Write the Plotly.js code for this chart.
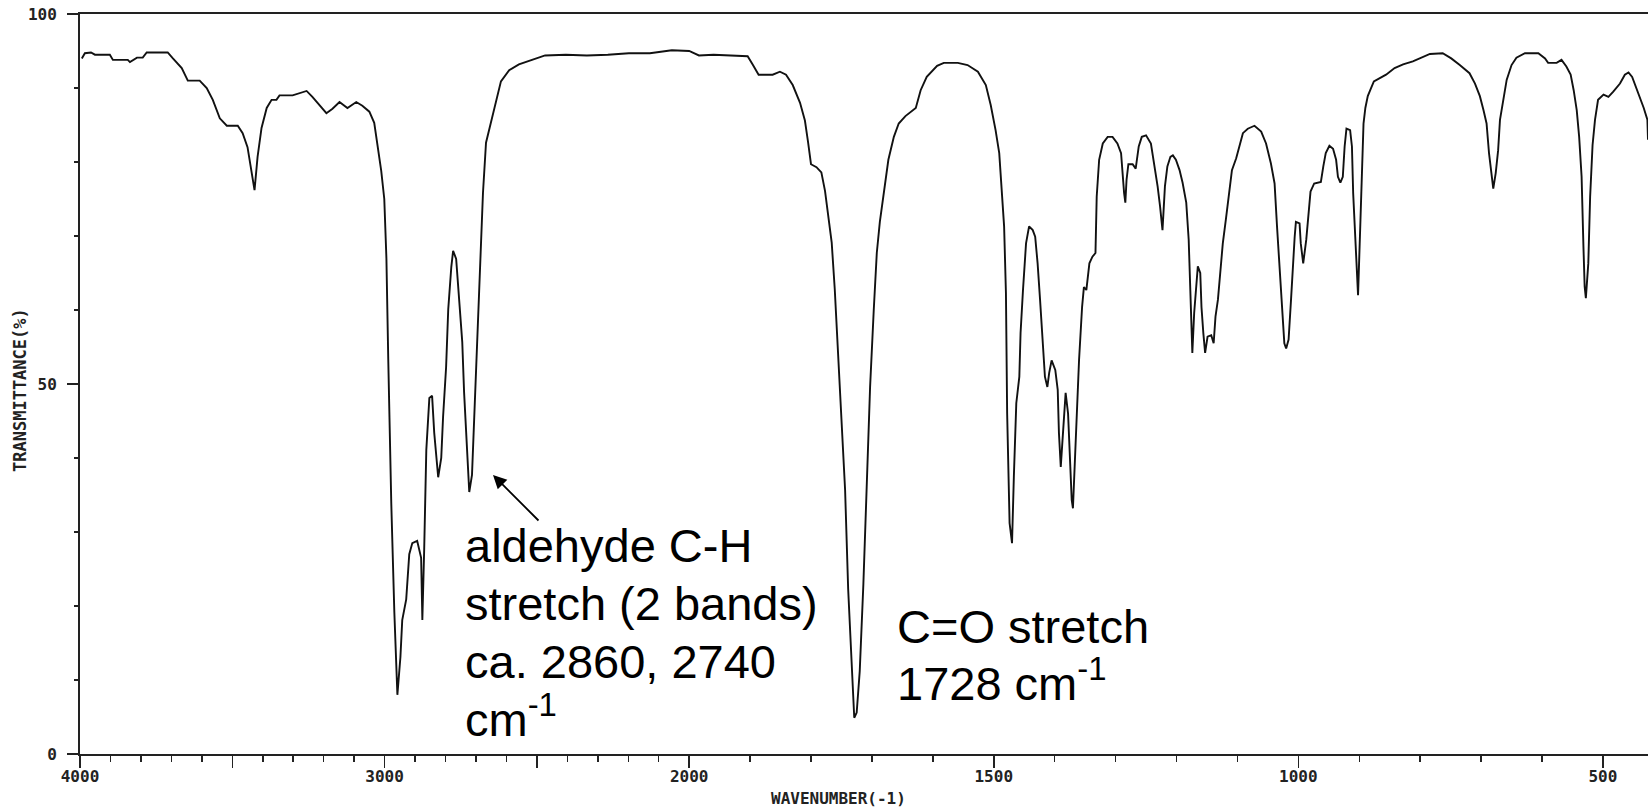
<!DOCTYPE html>
<html>
<head>
<meta charset="utf-8">
<script src="https://cdn.plot.ly/plotly-3.0.1.min.js"></script>
<style>
  html, body { margin: 0; padding: 0; background: #ffffff; }
  #chart { width: 1648px; height: 809px; }
</style>
</head>
<body>
<div id="chart"></div>
<script>
// IR spectrum of an aliphatic aldehyde: [wavenumber (cm-1), transmittance (%)]
// 4000-2000 cm-1: O-H/C-H stretching region
const stretchRegion = [
  [3994,94.0],[3984,94.7],[3964,94.8],[3951,94.5],[3902,94.5],[3892,93.8],[3843,93.8],[3836,93.5],
  [3813,94.1],[3794,94.1],[3781,94.8],[3712,94.8],[3695,94.0],[3666,92.7],[3646,91.0],[3607,91.0],
  [3584,90.0],[3564,88.4],[3541,85.9],[3518,84.9],[3482,84.9],[3466,83.9],[3450,82.0],[3437,78.9],
  [3427,76.2],[3417,80.7],[3404,84.6],[3387,87.3],[3371,88.4],[3355,88.4],[3345,89.0],[3302,89.0],
  [3256,89.6],[3237,88.8],[3214,87.7],[3191,86.6],[3171,87.2],[3148,88.1],[3122,87.3],[3093,88.1],
  [3073,87.6],[3050,86.8],[3034,85.3],[3024,82.5],[3011,78.8],[3001,75.0],[2994,67.0],[2988,53.4],
  [2978,33.8],[2968,19.2],[2962,10.8],[2958,8.0],[2948,13.1],[2942,18.1],[2929,20.9],[2919,27.0],
  [2909,28.5],[2893,28.8],[2880,26.5],[2876,18.1],[2870,27.6],[2863,41.1],[2853,48.1],[2844,48.4],
  [2837,43.4],[2830,40.0],[2824,37.4],[2814,40.0],[2808,45.5],[2798,52.3],[2791,60.1],[2781,65.8],
  [2775,68.0],[2765,66.9],[2755,61.8],[2745,55.7],[2739,48.9],[2729,40.5],[2722,35.4],[2713,37.7],
  [2706,45.0],[2696,53.4],[2690,60.1],[2683,69.1],[2677,75.8],[2667,82.6],[2650,85.4],[2634,88.2],
  [2618,90.9],[2591,92.4],[2559,93.2],[2516,93.8],[2473,94.4],[2405,94.5],[2336,94.4],[2267,94.5],
  [2198,94.7],[2129,94.7],[2057,95.1],[2000,95.0]
];

// 2000-1500 cm-1: carbonyl band and CH2 bending
const carbonylRegion = [
  [1984,94.4],[1960,94.5],[1925,94.4],[1904,94.3],[1896,93.2],[1886,91.8],[1863,91.8],[1851,92.2],
  [1841,91.8],[1830,90.4],[1818,88.0],[1810,85.6],[1805,82.8],[1800,79.7],[1791,79.3],[1783,78.6],
  [1777,76.1],[1772,72.6],[1766,69.1],[1761,62.8],[1756,54.4],[1750,46.0],[1744,35.6],[1739,22.3],
  [1733,11.2],[1729,4.9],[1725,5.6],[1720,11.2],[1714,23.0],[1708,37.0],[1703,49.6],[1697,60.0],
  [1692,67.7],[1687,71.9],[1681,75.4],[1673,80.3],[1664,83.4],[1656,85.2],[1645,86.2],[1628,87.3],
  [1620,89.7],[1610,91.5],[1593,93.0],[1582,93.4],[1559,93.4],[1543,93.1],[1526,92.2],[1513,90.4],
  [1505,87.7]
];

// 1500-426 cm-1: fingerprint region
const fingerprintRegion = [
  [1497,84.3],[1491,81.2],[1487,76.9],[1483,71.3],[1480,62.3],[1478,46.0],[1474,31.2],[1470,28.5],
  [1467,37.5],[1463,47.4],[1458,51.0],[1456,56.9],[1452,62.7],[1447,69.0],[1442,71.3],[1436,70.8],
  [1432,69.9],[1428,66.3],[1424,61.4],[1421,56.9],[1419,53.7],[1416,51.0],[1412,49.6],[1409,51.5],
  [1405,53.2],[1399,51.9],[1395,49.2],[1393,43.4],[1390,38.8],[1386,44.7],[1382,48.8],[1378,46.0],
  [1375,40.7],[1372,34.3],[1370,33.2],[1366,41.5],[1363,46.0],[1360,53.2],[1355,60.4],[1352,63.1],
  [1348,62.7],[1343,66.3],[1338,67.2],[1333,67.7],[1331,75.3],[1327,80.3],[1321,82.5],[1313,83.4],
  [1305,83.4],[1297,82.5],[1291,81.2],[1289,78.5],[1286,75.8],[1284,74.5],[1282,77.6],[1279,79.7],
  [1272,79.7],[1267,79.1],[1262,82.1],[1257,83.4],[1250,83.6],[1242,82.5],[1236,79.4],[1231,76.7],
  [1227,74.0],[1223,70.8],[1219,76.7],[1215,79.4],[1210,80.7],[1206,80.9],[1201,80.3],[1195,78.9],
  [1190,77.2],[1184,74.5],[1180,69.5],[1178,63.6],[1176,59.1],[1174,54.2],[1171,59.6],[1168,63.1],
  [1165,65.9],[1161,65.0],[1159,60.4],[1156,56.9],[1153,54.2],[1149,56.4],[1143,56.6],[1139,55.5],
  [1136,59.1],[1132,61.4],[1128,65.0],[1124,69.0],[1119,72.2],[1114,75.8],[1109,78.9],[1102,80.5],
  [1097,82.1],[1091,83.9],[1083,84.5],[1072,84.9],[1061,84.1],[1053,82.5],[1045,79.8],[1039,77.1],
  [1035,71.3],[1031,65.9],[1027,59.6],[1023,55.5],[1020,54.8],[1016,56.0],[1012,61.4],[1009,66.3],
  [1006,69.9],[1004,71.9],[998,71.7],[996,69.0],[992,66.3],[987,69.5],[983,74.0],[980,76.0],
  [974,77.1],[963,77.3],[959,79.4],[955,81.2],[949,82.2],[943,81.8],[938,80.3],[935,78.0],
  [931,77.2],[927,78.0],[924,82.1],[921,84.5],[915,84.3],[912,82.1],[910,75.8],[906,68.1],
  [902,62.0],[898,72.2],[895,78.9],[893,85.2],[890,87.3],[886,88.9],[882,89.7],[876,90.9],
  [867,91.3],[856,91.8],[842,92.7],[828,93.2],[812,93.6],[801,94.0],[784,94.6],[763,94.7],
  [749,94.0],[735,93.1],[719,92.0],[710,90.6],[702,88.9],[696,87.0],[691,85.2],[687,81.2],
  [683,78.5],[680,76.4],[676,78.5],[672,81.6],[669,85.7],[664,88.4],[658,91.1],[650,93.1],
  [642,94.1],[628,94.7],[606,94.7],[595,94.0],[590,93.4],[576,93.4],[568,93.8],[560,92.9],
  [553,91.8],[548,89.7],[543,87.0],[539,83.4],[535,78.0],[532,68.6],[530,63.2],[528,61.6],
  [524,66.3],[521,75.3],[517,82.3],[513,85.7],[508,88.4],[499,89.1],[491,88.8],[483,89.5],
  [472,90.6],[464,91.8],[458,92.1],[452,91.5],[447,90.4],[441,88.9],[433,87.3],[427,85.7],
  [426,83.0]
];

// Wavenumber axis: labelled ticks, long ticks every 500 cm-1, short ticks every 100 cm-1
const wnWindow = [4000, 426];
const labelTicks = [4000, 3000, 2000, 1500, 1000, 500];
const longTicks = [4000, 3500, 3000, 2500, 2000, 1500, 1000, 500];
const minorTicks = [];
for (let w = 3900; w >= 500; w -= 100) minorTicks.push(w);

// Transmittance axis
const yLabelTicks = [0, 50, 100];
const yMinorTicks = [10, 20, 30, 40, 60, 70, 80, 90];

// Spectrometer chart scale: below 2000 cm-1 the wavenumber axis is stretched 2x
function chartPos(w) {
  return w >= 2000 ? 4000 - w : 2000 + (2000 - w) * 2;
}

const spectrum = stretchRegion.concat(carbonylRegion, fingerprintRegion);
const xs = spectrum.map(p => chartPos(p[0]));
const ys = spectrum.map(p => p[1]);

const PLOT_L = 80, PLOT_T = 14, PLOT_W = 1568, PLOT_H = 740;
const px = v => (v - PLOT_L) / PLOT_W;
const py = v => (PLOT_T + PLOT_H - v) / PLOT_H;

const monoFont = 'DejaVu Sans Mono, monospace';
const inkColor = '#222';
const clear = 'rgba(0,0,0,0)';
const textFont = { family: 'Liberation Sans, Arial, sans-serif', size: 47, color: '#000' };

function textLine(text, x, yBottom) {
  return {
    xref: 'paper', yref: 'paper', x: px(x), y: py(yBottom),
    xanchor: 'left', yanchor: 'bottom', showarrow: false,
    text: text, font: textFont
  };
}

const annotations = [
  textLine('aldehyde C-H', 463, 574),
  textLine('stretch (2 bands)', 463, 632),
  textLine('ca. 2860, 2740', 463, 690),
  textLine('cm<sup>-1</sup>', 463, 748),
  textLine('C=O stretch', 895, 655),
  textLine('1728 cm<sup>-1</sup>', 895, 712),
  {
    xref: 'paper', yref: 'paper', x: px(493), y: py(475),
    ax: 47, ay: 47, text: '', showarrow: true,
    arrowhead: 2, arrowsize: 1.5, arrowwidth: 1.8, arrowcolor: '#000'
  },
  {
    xref: 'paper', yref: 'paper', x: px(838), y: py(798),
    xanchor: 'center', yanchor: 'middle', showarrow: false,
    text: 'WAVENUMBER(-1)', font: { family: monoFont, size: 16, color: inkColor, weight: 'bold' }
  },
  {
    xref: 'paper', yref: 'paper', x: px(20), y: py(390),
    xanchor: 'center', yanchor: 'middle', showarrow: false, textangle: -90,
    text: 'TRANSMITTANCE(%)', font: { family: monoFont, size: 17, color: inkColor, weight: 'bold' }
  }
];

const traces = [
  {
    type: 'scatter', mode: 'lines',
    x: xs, y: ys,
    line: { color: '#111', width: 1.9 },
    hoverinfo: 'skip'
  },
  // carries the long tick marks of both axes
  { type: 'scatter', mode: 'lines', x: [], y: [], xaxis: 'x2', yaxis: 'y2', hoverinfo: 'skip' }
];

const xRange = [chartPos(wnWindow[0]), chartPos(wnWindow[1])];
const yRange = [0, 100];
const tickFont = { family: monoFont, size: 16, color: inkColor, weight: 'bold' };

const layout = {
  width: 1648, height: 809,
  margin: { l: PLOT_L, r: 0, t: PLOT_T, b: 809 - PLOT_T - PLOT_H, pad: 0 },
  paper_bgcolor: '#ffffff', plot_bgcolor: '#ffffff',
  showlegend: false,
  font: { family: monoFont, color: inkColor },
  // labelled axes: the label offset comes from the (hidden) major tick length
  xaxis: {
    range: xRange,
    showgrid: false, zeroline: false,
    showline: true, linecolor: inkColor, linewidth: 2, mirror: true,
    ticks: 'outside', ticklen: 7, tickwidth: 1.5, tickcolor: clear,
    tickmode: 'array', tickvals: labelTicks.map(chartPos), ticktext: labelTicks.map(String),
    tickfont: tickFont,
    minor: {
      tickmode: 'array', tickvals: minorTicks.map(chartPos),
      ticks: 'outside', ticklen: 6, tickwidth: 1.5, tickcolor: inkColor, showgrid: false
    },
    automargin: false, fixedrange: true
  },
  yaxis: {
    range: yRange,
    showgrid: false, zeroline: false,
    showline: true, linecolor: inkColor, linewidth: 2,
    ticks: 'outside', ticklen: 18, tickwidth: 1.5, tickcolor: clear,
    tickmode: 'array', tickvals: yLabelTicks, ticktext: yLabelTicks.map(String),
    tickfont: tickFont,
    minor: {
      tickmode: 'array', tickvals: yMinorTicks,
      ticks: 'outside', ticklen: 4, tickwidth: 1.5, tickcolor: inkColor, showgrid: false
    },
    automargin: false, fixedrange: true
  },
  // long tick marks
  xaxis2: {
    range: xRange, overlaying: 'x', anchor: 'y', side: 'bottom',
    showgrid: false, zeroline: false, showline: false, showticklabels: false,
    ticks: 'outside', ticklen: 13, tickwidth: 1.5, tickcolor: inkColor,
    tickmode: 'array', tickvals: longTicks.map(chartPos),
    automargin: false, fixedrange: true
  },
  yaxis2: {
    range: yRange, overlaying: 'y', anchor: 'x', side: 'left',
    showgrid: false, zeroline: false, showline: false, showticklabels: false,
    ticks: 'outside', ticklen: 12, tickwidth: 1.5, tickcolor: inkColor,
    tickmode: 'array', tickvals: yLabelTicks,
    automargin: false, fixedrange: true
  },
  annotations: annotations
};

Plotly.newPlot('chart', traces, layout, { displayModeBar: false, staticPlot: true });
</script>
</body>
</html>
